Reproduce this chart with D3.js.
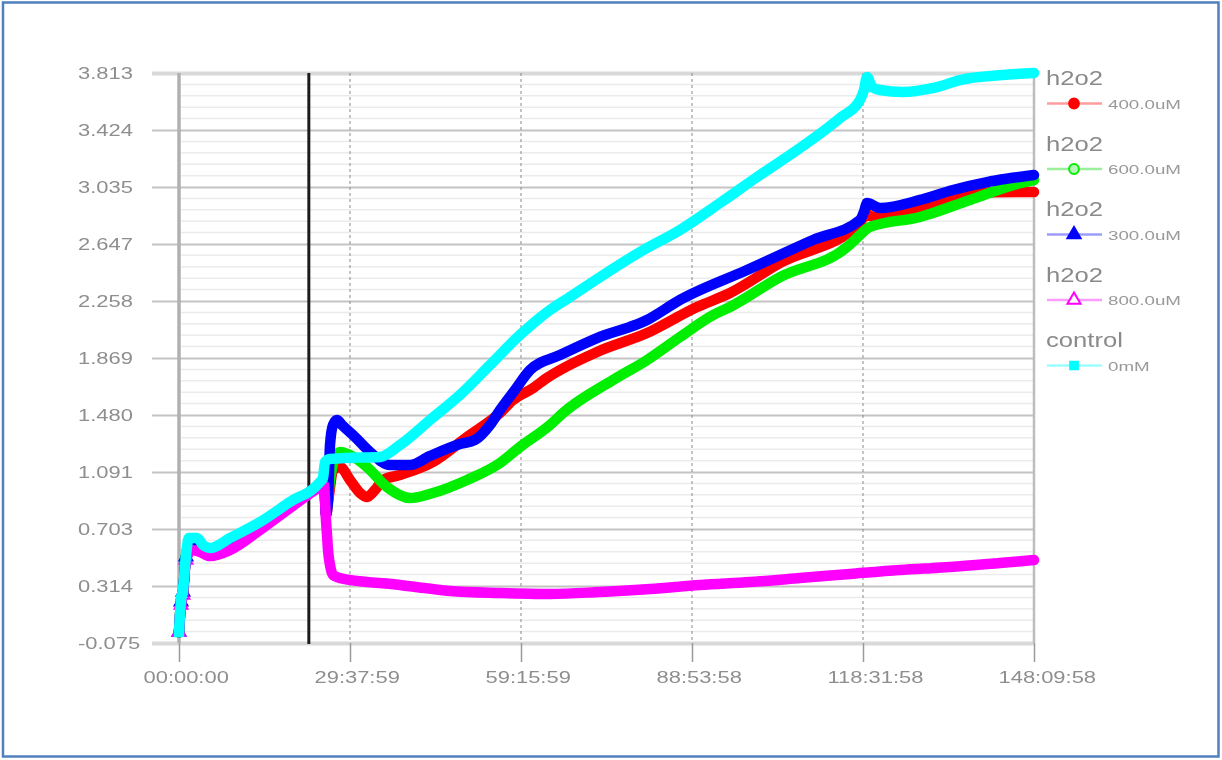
<!DOCTYPE html>
<html><head><meta charset="utf-8">
<script src="https://cdn.jsdelivr.net/npm/d3@7"></script>
<style>body{margin:0;background:#fff}svg{display:block}</style>
</head><body>
<svg id="c" width="1222" height="760"></svg>
<script>
// ---------- data ----------
const yTicks = [-0.075, 0.314, 0.703, 1.091, 1.480, 1.869, 2.258, 2.647, 3.035, 3.424, 3.813];
const xTickLabels = ["00:00:00", "29:37:59", "59:15:59", "88:53:58", "118:31:58", "148:09:58"];
const eventHour = 22.5;
const seriesNames = ["h2o2", "h2o2", "h2o2", "h2o2", "control"];
const seriesDoses = ["400.0uM", "600.0uM", "300.0uM", "800.0uM", "0mM"];
const seriesColors = ["#ff0000", "#00ee00", "#0000ff", "#ff00ff", "#00ffff"];
const legendLineColors = ["#ff9c9c", "#9cf09c", "#9c9cff", "#ff9cff", "#9cffff"];

// [hours, value]
const earlyCommon = [[0,0.000],[0.35,0.205],[0.69,0.273],[1.21,0.512],[1.91,0.607],[3.12,0.600],[4.16,0.566],[5.37,0.546],[8.84,0.607],[14.04,0.723],[19.24,0.866],[24.43,1.010],[25.13,1.037]];
const red400 = [[25.47,0.798],[25.99,0.935],[26.69,1.105],[27.90,1.126],[29.63,1.037],[31.37,0.948],[32.58,0.921],[33.97,0.969],[35.35,1.037],[38.30,1.071],[44.02,1.160],[49.91,1.330],[55.63,1.494],[57.88,1.582],[61.35,1.664],[63.77,1.733],[72.44,1.910],[81.10,2.039],[89.77,2.217],[95.48,2.312],[104.15,2.517],[118.01,2.790],[119.05,2.852],[120.27,2.831],[128.41,2.899],[137.07,2.994],[145.74,3.001],[148.17,3.001]];
const green600 = [[25.47,0.819],[26.17,1.037],[26.86,1.173],[27.90,1.228],[29.63,1.207],[32.58,1.126],[36.04,0.989],[40.03,0.914],[44.02,0.948],[49.91,1.037],[55.63,1.153],[59.09,1.262],[64.29,1.412],[66.54,1.494],[75.21,1.719],[81.10,1.855],[86.82,2.012],[92.54,2.162],[95.48,2.217],[104.15,2.421],[115.76,2.626],[118.01,2.708],[118.53,2.728],[119.75,2.763],[128.41,2.831],[137.07,2.947],[145.74,3.062],[148.17,3.083]];
const blue300 = [[25.47,0.798],[25.82,0.900],[26.17,1.276],[26.69,1.412],[27.38,1.446],[28.25,1.412],[30.50,1.330],[33.10,1.228],[36.56,1.139],[40.03,1.139],[43.50,1.201],[48.69,1.282],[51.30,1.310],[53.89,1.412],[55.63,1.514],[58.23,1.651],[60.83,1.787],[66.02,1.889],[72.44,2.005],[81.10,2.128],[86.82,2.265],[98.43,2.469],[109.87,2.674],[118.01,2.810],[118.70,2.865],[119.23,2.926],[121.48,2.892],[128.41,2.947],[134.13,3.015],[140.02,3.069],[148.17,3.117]];
const magenta800 = [[0,0.000],[0.35,0.184],[0.69,0.252],[1.21,0.491],[2.25,0.559],[3.64,0.546],[5.37,0.518],[8.84,0.559],[14.04,0.696],[19.24,0.846],[24.43,0.989],[25.13,1.003],[25.30,0.900],[25.47,0.764],[25.65,0.662],[25.82,0.559],[26.17,0.457],[26.69,0.389],[27.90,0.368],[38.30,0.321],[46.96,0.280],[55.63,0.266],[64.29,0.259],[72.96,0.273],[81.62,0.293],[90.28,0.321],[98.95,0.341],[107.62,0.368],[116.28,0.396],[124.94,0.423],[133.61,0.443],[142.27,0.471],[148.17,0.491]];
const control0 = [[0,0.000],[0.35,0.218],[0.69,0.287],[1.21,0.525],[1.73,0.641],[3.12,0.641],[4.16,0.593],[5.37,0.573],[8.84,0.641],[14.04,0.750],[19.24,0.887],[24.43,1.023],[24.95,1.050],[25.30,1.160],[26.17,1.180],[28.77,1.187],[34.83,1.194],[38.30,1.276],[43.50,1.446],[48.69,1.617],[53.89,1.821],[59.09,2.026],[64.29,2.196],[67.76,2.285],[72.96,2.421],[79.89,2.592],[86.82,2.742],[93.75,2.926],[100.68,3.117],[107.62,3.301],[114.55,3.506],[118.01,3.629],[118.70,3.697],[119.23,3.786],[120.09,3.717],[121.48,3.697],[125.46,3.683],[131.36,3.717],[135.34,3.765],[142.79,3.799],[148.17,3.813]];

const seriesData = [
  earlyCommon.concat(red400),
  earlyCommon.concat(green600),
  earlyCommon.concat(blue300),
  magenta800,
  control0
];
const symbols = [d3.symbolCircle, d3.symbolCircle, d3.symbolTriangle, d3.symbolTriangle, d3.symbolSquare];
const symbolOpen = [false, true, false, true, false];

// ---------- helpers ----------
const toHours = s => { const p = s.split(":").map(Number); return p[0] + p[1] / 60 + p[2] / 3600; };
const xTickHours = xTickLabels.map(toHours);

const L = 179, R = 1034, T = 73, B = 643;
const x = d3.scaleLinear().domain([0, d3.max(xTickHours)]).range([L, R]);
const y = d3.scaleLinear().domain([d3.min(yTicks), d3.max(yTicks)]).range([B, T]);

const svg = d3.select("#c");
const defs = svg.append("defs");
defs.append("filter").attr("id", "soft").attr("x", "-5%").attr("y", "-5%").attr("width", "110%").attr("height", "110%")
  .append("feGaussianBlur").attr("stdDeviation", 0.6);

const g = svg.append("g").attr("filter", "url(#soft)");
const font = "'Liberation Sans', Arial, sans-serif";

function stretch(sel, k) {
  sel.each(function () {
    const w = this.getComputedTextLength();
    this.setAttribute("textLength", w * k);
    this.setAttribute("lengthAdjust", "spacingAndGlyphs");
  });
}

// minor horizontal grid
const minor = [];
for (let i = 0; i < yTicks.length - 1; i++) {
  const st = (yTicks[i + 1] - yTicks[i]) / 5;
  for (let k = 1; k < 5; k++) minor.push(yTicks[i] + k * st);
}
g.append("g").selectAll("line").data(minor).join("line")
  .attr("x1", L + 2).attr("x2", R).attr("y1", d => y(d)).attr("y2", d => y(d))
  .attr("stroke", "#ebebeb").attr("stroke-width", 1.5);

// y axis (major grid + labels)
const yAxis = g.append("g").attr("transform", `translate(152,0)`)
  .call(d3.axisLeft(y).tickValues(yTicks).tickFormat(d => d.toFixed(3)).tickSize(-(R - 152)).tickPadding(0));
yAxis.select(".domain").remove();
yAxis.selectAll(".tick line")
  .attr("stroke", (d, i) => (i === 0 || i === yTicks.length - 1) ? "#d9d9d9" : "#c4c4c4")
  .attr("stroke-width", (d, i) => (i === 0 || i === yTicks.length - 1) ? 4 : 2);
yAxis.selectAll(".tick text")
  .attr("x", 78 - 152).attr("dy", "0.35em").attr("text-anchor", "start")
  .attr("fill", "#8e8e8e").style("font-family", font).style("font-size", "16px");
stretch(yAxis.selectAll(".tick text"), 1.37);

// vertical grid
g.append("g").selectAll("line").data(xTickHours.slice(1, -1)).join("line")
  .attr("x1", d => x(d)).attr("x2", d => x(d)).attr("y1", T).attr("y2", B)
  .attr("stroke", "#8a8a8a").attr("stroke-width", 1).attr("stroke-dasharray", "3,3");
g.append("line").attr("x1", L).attr("x2", L).attr("y1", T).attr("y2", B)
  .attr("stroke", "#b0b0b0").attr("stroke-width", 3.5);
g.append("line").attr("x1", R).attr("x2", R).attr("y1", T).attr("y2", B)
  .attr("stroke", "#bdbdbd").attr("stroke-width", 2.5);

// x axis
const xAxis = g.append("g").attr("transform", `translate(0,${B})`)
  .call(d3.axisBottom(x).tickValues(xTickHours).tickFormat((d, i) => xTickLabels[i]).tickSize(19).tickPadding(0));
xAxis.select(".domain").remove();
xAxis.selectAll(".tick line").attr("stroke", "#9a9a9a").attr("stroke-width", 1.5);
xAxis.selectAll(".tick text")
  .attr("x", -36).attr("y", 34).attr("dy", "0.35em").attr("text-anchor", "start")
  .attr("fill", "#8e8e8e").style("font-family", font).style("font-size", "16px");
stretch(xAxis.selectAll(".tick text"), 1.37);

// event line
g.append("line").attr("x1", x(eventHour)).attr("x2", x(eventHour)).attr("y1", T).attr("y2", B + 1)
  .attr("stroke", "#1e1e1e").attr("stroke-width", 3);

// series
const line = d3.line().curve(d3.curveMonotoneX).x(d => x(d[0])).y(d => y(d[1]));
seriesData.forEach((data, i) => {
  const sg = g.append("g");
  sg.append("path").datum(data).attr("d", line)
    .attr("fill", "none").attr("stroke", seriesColors[i]).attr("stroke-width", 10.5)
    .attr("stroke-linejoin", "round").attr("stroke-linecap", "round");
  sg.selectAll("path.m").data(data.slice(0, 4)).join("path").attr("class", "m")
    .attr("transform", d => `translate(${x(d[0])},${y(d[1])})`)
    .attr("d", d3.symbol().type(symbols[i]).size(70))
    .attr("fill", symbolOpen[i] ? "#fff" : seriesColors[i])
    .attr("stroke", seriesColors[i]).attr("stroke-width", 2);
});

// legend
const lg = g.append("g");
seriesNames.forEach((n, i) => {
  const ty = 78 + i * 65.5, ly = ty + 25.5;
  const t = lg.append("text").attr("x", 1046).attr("y", ty).attr("dy", "0.35em")
    .attr("fill", "#8a8a8a").style("font-family", font).style("font-size", "20px").text(n);
  stretch(t, 1.28);
  lg.append("line").attr("x1", 1047).attr("x2", 1102).attr("y1", ly).attr("y2", ly)
    .attr("stroke", legendLineColors[i]).attr("stroke-width", 2.5);
  lg.append("path").attr("transform", `translate(1074,${ly})`)
    .attr("d", d3.symbol().type(symbols[i]).size(symbols[i] === d3.symbolSquare ? 60 : 75))
    .attr("fill", symbolOpen[i] ? (i === 1 ? "#b8f5b8" : "#fff") : seriesColors[i])
    .attr("stroke", seriesColors[i]).attr("stroke-width", 2);
  const t2 = lg.append("text").attr("x", 1108).attr("y", ly + 1).attr("dy", "0.35em")
    .attr("fill", "#999").style("font-family", font).style("font-size", "12.5px").text(seriesDoses[i]);
  stretch(t2, 1.5);
});

// frame
svg.append("rect").attr("x", 3).attr("y", 2.5).attr("width", 1215.5).attr("height", 754)
  .attr("fill", "none").attr("stroke", "#5080bd").attr("stroke-width", 2.5);
</script>
</body></html>
